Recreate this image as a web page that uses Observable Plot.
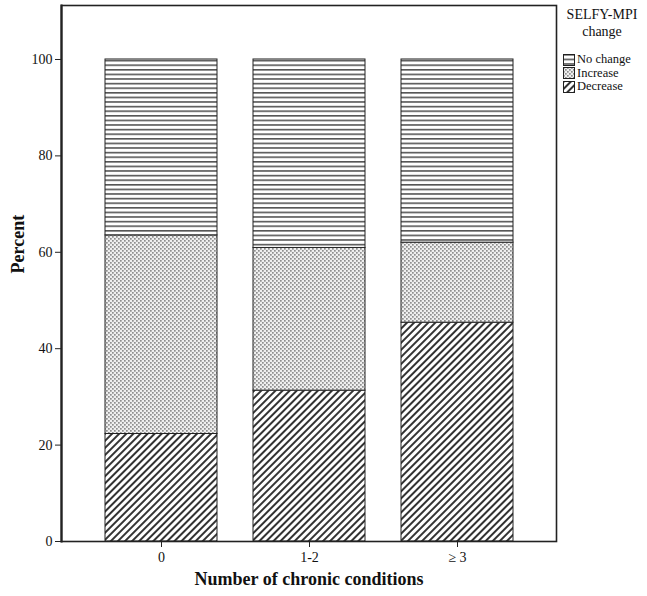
<!DOCTYPE html>
<html>
<head>
<meta charset="utf-8">
<script src="https://cdn.jsdelivr.net/npm/d3@7"></script>
<script src="https://cdn.jsdelivr.net/npm/@observablehq/plot@0.6"></script>
<style>
  body { margin: 0; background: #fff; }
  #wrap { position: relative; width: 647px; height: 596px; font-family: "Liberation Serif", "DejaVu Serif", serif; }
  #legend { position: absolute; left: 557px; top: 0; width: 90px; color: #111; }
  #legend .title { position: absolute; left: 0; width: 90px; text-align: center; font-size: 14px; }
  #legend .item { position: absolute; left: 6px; font-size: 12.5px; display: flex; align-items: center; white-space: nowrap; }
  #legend .item svg { margin-right: 2px; }
</style>
</head>
<body>
<svg width="0" height="0" style="position:absolute">
  <defs>
    <pattern id="pNo" patternUnits="userSpaceOnUse" width="8" height="4.6">
      <rect width="8" height="4.6" fill="#fff"/>
      <rect y="0" width="8" height="1.6" fill="#555"/>
    </pattern>
    <pattern id="pInc" patternUnits="userSpaceOnUse" width="4" height="4">
      <rect width="4" height="4" fill="#efefef"/>
      <rect x="0" y="0" width="1.7" height="1.7" fill="#8f8f8f"/>
      <rect x="2" y="2" width="1.7" height="1.7" fill="#8f8f8f"/>
    </pattern>
    <pattern id="pDec" patternUnits="userSpaceOnUse" width="5" height="5" patternTransform="rotate(45)">
      <rect width="5" height="5" fill="#fff"/>
      <rect x="0" y="0" width="2" height="5" fill="#333"/>
    </pattern>
  </defs>
</svg>
<div id="wrap">
  <div id="chart"></div>
  <div id="legend"></div>
</div>
<script>
const categories = ["0", "1-2", "\u2265 3"];
const changeTypes = ["Decrease", "Increase", "No change"];
const decreaseValues = [22.3, 31.3, 45.4];
const increaseValues = [41.2, 29.6, 16.6];
const noChangeValues = [36.5, 39.1, 38.0];
const yTicks = [0, 20, 40, 60, 80, 100];
const patternIds = ["url(#pDec)", "url(#pInc)", "url(#pNo)"];

const seriesValues = [decreaseValues, increaseValues, noChangeValues];
const data = [];
changeTypes.forEach((t, i) => {
  categories.forEach((c, j) => data.push({cat: c, change: t, value: seriesValues[i][j]}));
});

const chart = Plot.plot({
  width: 647,
  height: 596,
  marginLeft: 61,
  marginRight: 91,
  marginTop: 5,
  marginBottom: 55,
  style: {fontFamily: "'Liberation Serif', 'DejaVu Serif', serif", fontSize: "14px", color: "#111", background: "#fff"},
  x: {domain: categories, paddingInner: 0.246, paddingOuter: 0.293, label: null},
  y: {domain: [0, 111.2], label: null},
  color: {domain: changeTypes, range: patternIds},
  marks: [
    Plot.barY(data, {x: "cat", y: "value", fill: "change", stroke: "#222", strokeWidth: 1}),
    Plot.frame({stroke: "#222", strokeWidth: 1.6}),
    Plot.frame({anchor: "left", stroke: "#222", strokeWidth: 2.2}),
    Plot.axisY({ticks: yTicks, tickSize: 6, tickPadding: 3, label: null, fontSize: 14, stroke: "#222"}),
    Plot.axisX({tickSize: 6, tickPadding: 5, label: null, fontSize: 14, stroke: "#222"}),
    Plot.text(["Percent"], {frameAnchor: "left", dx: -43, rotate: -90, fontWeight: "bold", fontSize: 18, fill: "#111"}),
    Plot.text(["Number of chronic conditions"], {frameAnchor: "bottom", dy: 43, fontWeight: "bold", fontSize: 18, fill: "#111"})
  ]
});
document.getElementById("chart").appendChild(chart);

// Legend (to the right of the plot frame)
const legend = document.getElementById("legend");
const titleLines = ["SELFY-MPI", "change"];
titleLines.forEach((t, i) => {
  const d = document.createElement("div");
  d.className = "title";
  d.style.top = (7 + i * 17) + "px";
  d.textContent = t;
  legend.appendChild(d);
});
const legendOrder = ["No change", "Increase", "Decrease"];
legendOrder.forEach((t, i) => {
  const d = document.createElement("div");
  d.className = "item";
  d.style.top = (52 + i * 13.5) + "px";
  const pid = patternIds[changeTypes.indexOf(t)];
  d.innerHTML = `<svg width="12" height="12"><rect x="0.5" y="0.5" width="11" height="11" fill="${pid}" stroke="#222" stroke-width="1"/></svg><span>${t}</span>`;
  legend.appendChild(d);
});
</script>
</body>
</html>
